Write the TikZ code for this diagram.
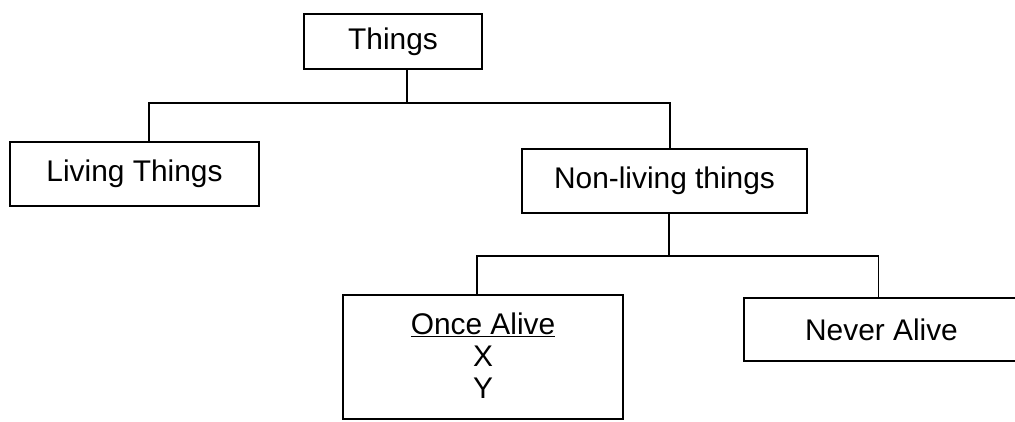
\documentclass[tikz,border=0pt]{standalone}
\usepackage{fontspec}
\setmainfont{Liberation Sans}
\usetikzlibrary{positioning}

\begin{document}
\begin{tikzpicture}[
    b/.style={draw,line width=1pt,inner sep=0pt},%
    l/.style={line width=1pt},%
    t/.style={font=\fontsize{17}{18.4}\selectfont}]
    \useasboundingbox (0,0) rectangle (20.3,-8.42);
    \clip (0,0) rectangle (20.3,-8.42);
    \node[b,t,minimum width=3.56cm,minimum height=1.1cm] (things) at (7.86,-0.83) {Things} ;
    \node[b,t,minimum width=4.98cm,minimum height=1.28cm] (living) at (2.69,-3.48) {Living Things} ;
    \node[b,t,minimum width=5.7cm,minimum height=1.28cm] (nonliving) at (13.29,-3.62) {Non-living things} ;
    \node[b,minimum width=5.6cm,minimum height=2.48cm] (once) at (9.66,-7.14) {} ;
    \node[t,anchor=north,align=center,inner sep=0pt] (oncetxt) at (9.66,-6.24) {\underline{Once Alive}\\X\\Y} ;
    % never alive runs off the right side
    \node[b,t,minimum width=5.5cm,minimum height=1.26cm] (never) at (17.63,-6.59) {Never Alive} ;
    \coordinate (j1) at (8.14,-2.06) ;
    \coordinate (j2) at (13.38,-5.12) ;

    \draw[l] (things.south -| j1) -- (j1) ;
    \draw[l] ([xshift=.29cm]living.north) |- (j1) -| ([xshift=.11cm]nonliving.north) ;
    \draw[l] (nonliving.south -| j2) -- (j2) ;
    \draw[l] ([xshift=-.12cm]once.north) |- (j2) -| ([xshift=-.06cm]never.north) ;
    \end{tikzpicture}
\end{document}
